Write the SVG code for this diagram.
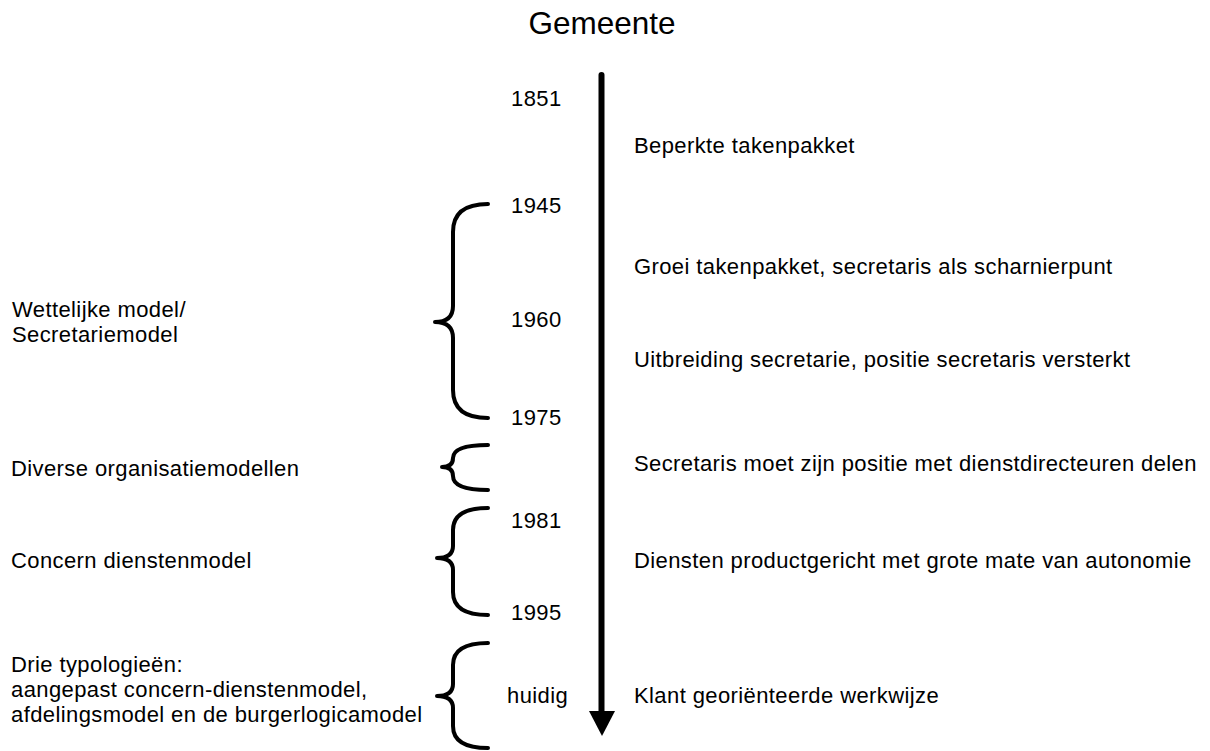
<svg xmlns="http://www.w3.org/2000/svg" width="1210" height="751" viewBox="0 0 1210 751">
<style>
text{font-family:"Liberation Sans",Arial,sans-serif;font-size:22px;letter-spacing:0.4px;fill:#000}
.title{font-size:31.5px;letter-spacing:0}
.brace{fill:none;stroke:#000;stroke-width:4;stroke-linecap:round;stroke-linejoin:round}
</style>
<rect width="1210" height="751" fill="#fff"/>
<text class="title" x="602" y="34" text-anchor="middle">Gemeente</text>
<g id="connectors">
<line x1="601.5" y1="75" x2="601.5" y2="713" stroke="#000" stroke-width="6" stroke-linecap="round"/>
<polygon points="589,711 615,711 602,736" fill="#000"/>
</g>
<g id="years">
<text x="511" y="106">1851</text>
<text x="511" y="213">1945</text>
<text x="511" y="327">1960</text>
<text x="511" y="425">1975</text>
<text x="511" y="528">1981</text>
<text x="511" y="620">1995</text>
<text x="507" y="703">huidig</text>
</g>
<g id="descriptions">
<text x="634" y="153">Beperkte takenpakket</text>
<text x="634" y="274">Groei takenpakket, secretaris als scharnierpunt</text>
<text x="634" y="367">Uitbreiding secretarie, positie secretaris versterkt</text>
<text x="634" y="471">Secretaris moet zijn positie met dienstdirecteuren delen</text>
<text x="634" y="568">Diensten productgericht met grote mate van autonomie</text>
<text x="634" y="703">Klant georiënteerde werkwijze</text>
</g>
<g id="brace1">
<path class="brace" d="M488,204 Q453,204 453,232 L453,306 Q453,322 435,322 Q453,322 453,338 L453,390 Q453,418 488,418"/>
<text x="12" y="317">Wettelijke model/</text>
<text x="12" y="342">Secretariemodel</text>
</g>
<g id="brace2">
<path class="brace" d="M488,445 Q453,445 453,458 Q453,467 442,467 Q453,467 453,476 Q453,490 488,490"/>
<text x="11" y="476">Diverse organisatiemodellen</text>
</g>
<g id="brace3">
<path class="brace" d="M488,508 Q453,508 453,530 L453,546 Q453,558 437,558 Q453,558 453,570 L453,592 Q453,615 488,615"/>
<text x="11" y="568">Concern dienstenmodel</text>
</g>
<g id="brace4">
<path class="brace" d="M488,643 Q453,643 453,665 L453,684 Q453,696 437,696 Q453,696 453,708 L453,726 Q453,748 488,748"/>
<text x="11" y="672">Drie typologieën:</text>
<text x="11" y="697">aangepast concern-dienstenmodel,</text>
<text x="11" y="722">afdelingsmodel en de burgerlogicamodel</text>
</g>
</svg>
